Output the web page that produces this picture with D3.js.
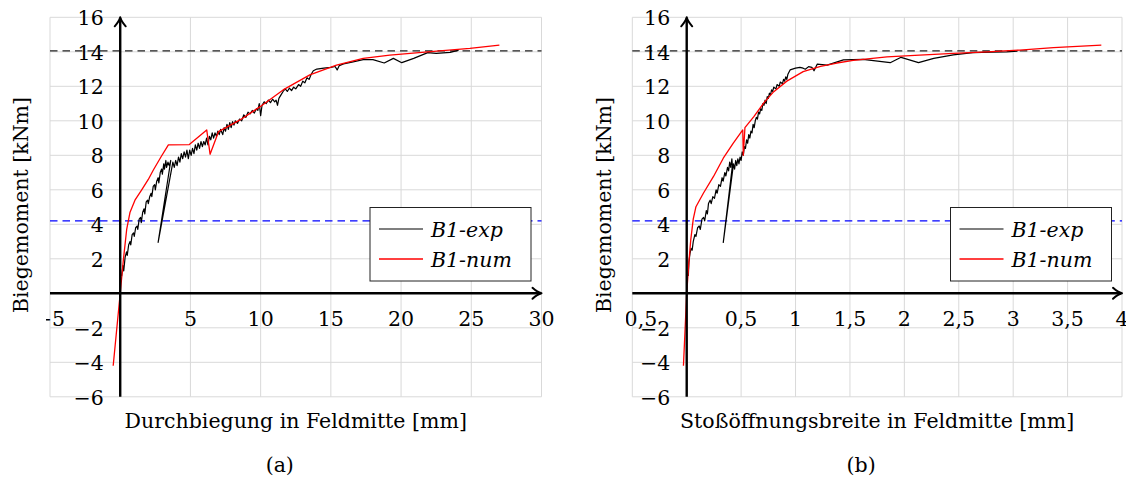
<!DOCTYPE html>
<html>
<head>
<meta charset="utf-8">
<script src="https://cdn.jsdelivr.net/npm/d3@7"></script>
<style>
  body { margin: 0; background: #fff; }
  svg { display: block; }
  text { font-family: "DejaVu Serif", serif; fill: #000; }
</style>
</head>
<body>
<svg id="chart" width="1126" height="481"></svg>
<script>
// ---------- data ----------
// (a) moment vs. mid-span deflection [mm]
const expA = [
  [0.1,1.0],[0.2,1.6],[0.25,1.3],[0.35,2.1],[0.45,2.4],[0.5,2.2],[0.6,2.8],[0.7,3.0],[0.75,2.8],
  [0.85,3.4],[0.95,3.5],[1.0,3.3],[1.1,3.8],[1.2,3.9],[1.25,3.7],[1.35,4.3],[1.45,4.4],[1.5,4.1],
  [1.6,4.7],[1.7,4.9],[1.75,4.6],[1.85,5.3],[1.95,5.4],[2.0,5.2],[2.1,5.6],[2.2,5.8],[2.25,5.6],
  [2.35,6.2],[2.45,6.3],[2.5,6.0],[2.6,6.5],[2.7,6.7],[2.75,6.4],[2.85,7.0],[2.95,7.2],[3.0,6.9],
  [3.1,7.5],[3.15,7.2],[3.25,7.7],[3.3,7.3],[3.4,7.6],[3.5,7.4],[3.6,7.7],
  [2.7,2.95],
  [3.75,7.6],[3.85,7.3],[3.95,7.7],[4.05,7.4],[4.15,7.9],[4.25,7.6],[4.35,8.1],[4.45,7.8],[4.55,8.2],
  [4.65,7.9],[4.75,8.3],[4.85,7.8],[4.95,8.3],[5.05,8.0],[5.15,8.4],[5.25,8.1],[5.35,8.6],[5.45,8.3],
  [5.55,8.7],[5.65,8.4],[5.75,8.8],[5.85,8.5],[5.95,8.8],[6.05,8.6],[6.15,9.0],[6.25,8.6],[6.35,9.1],
  [6.45,8.9],[6.55,9.3],[6.65,9.0],[6.75,9.3],[6.85,9.1],[6.95,9.4],[7.05,9.2],[7.15,9.5],[7.3,9.2],
  [7.4,9.6],[7.5,9.4],[7.6,9.8],[7.7,9.5],[7.8,9.9],[7.9,9.6],[8.0,9.95],[8.1,9.75],[8.2,10.0],
  [8.35,9.85],[8.5,10.1],[8.65,10.0],[8.8,10.35],[8.95,10.2],[9.1,10.5],[9.25,10.4],[9.4,10.6],
  [9.55,10.45],[9.7,10.7],[9.8,10.6],[9.9,11.0],[10.0,10.3],[10.1,10.9],[10.25,11.1],[10.4,11.0],
  [10.55,11.2],[10.7,11.05],[10.85,11.25],[11.0,11.1],[11.1,11.2],[11.2,10.9],[11.3,11.3],[11.45,11.5],
  [11.6,11.7],[11.75,11.85],[11.9,11.7],[12.05,11.9],[12.2,11.75],[12.35,11.95],[12.5,11.85],[12.7,12.1],
  [12.85,12.0],[13.0,12.3],[13.15,12.2],[13.3,12.5],[13.45,12.4],[13.6,12.7],[13.75,12.9],[14.0,13.0],
  [14.5,13.05],[15.0,13.1],[15.3,13.15],[15.45,12.95],[15.6,13.2],[15.9,13.3],[16.5,13.4],[17.3,13.55],
  [18.0,13.55],[18.8,13.35],[19.45,13.62],[20.05,13.37],[20.9,13.62],[21.9,13.95],[22.5,13.91],
  [23.5,13.97],[24.1,14.1]
];
const numA = [
  [-0.5,-4.2],[0,0],[0.22,1.9],[0.46,3.7],[0.7,4.7],[1.05,5.4],[1.53,6.0],[2.0,6.6],[2.36,7.15],
  [2.9,7.9],[3.43,8.6],[4.92,8.62],[6.16,9.47],[6.4,8.06],[7.0,9.37],[8.53,10.05],[9.96,10.82],
  [11.6,11.79],[13.5,12.66],[15.4,13.23],[17.3,13.62],[19.2,13.81],[21.9,14.0],[24.9,14.2],[27.0,14.39]
];

// (b) moment vs. joint opening width [mm]
const expB = [
  [0.015,1.0],[0.02,1.8],[0.03,2.3],[0.04,2.6],[0.05,2.5],[0.06,3.0],[0.075,3.4],[0.085,3.3],[0.1,3.8],
  [0.115,3.9],[0.125,3.7],[0.14,4.3],[0.155,4.4],[0.165,4.2],[0.18,4.8],[0.19,4.6],[0.2,5.2],[0.215,5.4],
  [0.225,5.2],[0.24,5.6],[0.255,5.5],[0.27,6.0],[0.28,5.8],[0.295,6.3],[0.31,6.2],[0.325,6.7],[0.335,6.5],
  [0.35,7.0],[0.36,6.8],[0.375,7.3],[0.385,7.1],[0.395,7.6],[0.405,7.3],[0.415,7.8],[0.42,7.4],
  [0.336,2.95],
  [0.43,7.5],[0.44,7.2],[0.45,7.7],[0.46,7.4],[0.47,7.8],[0.48,7.5],[0.49,7.9],[0.5,7.7],[0.51,8.2],
  [0.52,8.0],[0.53,8.5],[0.54,8.4],[0.55,8.9],[0.56,8.7],[0.57,9.2],[0.58,9.0],[0.59,9.4],[0.6,9.3],
  [0.61,9.8],[0.62,9.6],[0.63,10.0],[0.64,10.2],[0.65,10.1],[0.66,10.5],[0.67,10.4],[0.68,10.7],
  [0.69,10.6],[0.7,11.0],[0.71,10.9],[0.72,11.2],[0.73,11.0],[0.74,11.4],[0.75,11.3],[0.76,11.6],
  [0.77,11.5],[0.78,11.8],[0.79,11.7],[0.8,11.95],[0.82,11.85],[0.83,12.1],[0.85,12.0],[0.86,12.25],
  [0.88,12.15],[0.89,12.4],[0.9,12.3],[0.91,12.55],[0.92,12.4],[0.93,12.7],[0.95,12.95],[1.0,13.05],
  [1.04,13.1],[1.07,13.05],[1.09,12.99],[1.12,13.14],[1.15,13.1],[1.17,12.9],[1.2,13.29],[1.29,13.23],
  [1.44,13.53],[1.62,13.56],[1.87,13.37],[1.97,13.68],[2.13,13.37],[2.27,13.62],[2.45,13.82],
  [2.63,13.95],[2.8,13.98],[2.94,14.0],[3.04,14.04]
];
const numB = [
  [-0.03,-4.2],[0,0],[0.02,1.8],[0.037,3.09],[0.06,4.3],[0.085,5.02],[0.153,5.8],[0.245,6.76],
  [0.336,7.83],[0.428,8.7],[0.515,9.47],[0.52,8.0],[0.535,9.6],[0.617,10.24],[0.71,11.05],[0.8,11.69],
  [0.92,12.3],[1.07,12.85],[1.23,13.15],[1.38,13.35],[1.53,13.5],[1.84,13.7],[2.14,13.81],[2.45,13.91],
  [2.76,14.0],[3.06,14.1],[3.37,14.24],[3.81,14.39]
];

// reference levels [kNm]
const ultimateMoment = 14.05;
const crackingMoment = 4.2;

// ticks
const yTicks = [-6, -4, -2, 0, 2, 4, 6, 8, 10, 12, 14, 16];
const yTickLabels = ["\u22126", "\u22124", "\u22122", "", "2", "4", "6", "8", "10", "12", "14", "16"];
const xTicksA = [-5, 0, 5, 10, 15, 20, 25, 30];
const xTickLabelsA = ["\u22125", "", "5", "10", "15", "20", "25", "30"];
const xTicksB = [-0.5, 0, 0.5, 1, 1.5, 2, 2.5, 3, 3.5, 4];
const xTickLabelsB = ["\u22120,5", "", "0,5", "1", "1,5", "2", "2,5", "3", "3,5", "4"];

const seriesNames = ["B1-exp", "B1-num"];
const seriesColors = ["#000", "#ff0000"];

// ---------- layout ----------
const svg = d3.select("#chart");
const FONT = 20.5;

const panels = [
  {
    id: "a", exp: expA, num: numA,
    xDomain: [-5, 30], xRange: [50, 541.5],
    xTicks: xTicksA, xTickLabels: xTickLabelsA,
    xLabel: "Durchbiegung in Feldmitte [mm]", caption: "(a)",
    yLabelX: 28, clipLeft: 46
  },
  {
    id: "b", exp: expB, num: numB,
    xDomain: [-0.5, 4], xRange: [632.3, 1122],
    xTicks: xTicksB, xTickLabels: xTickLabelsB,
    xLabel: "Stoßöffnungsbreite in Feldmitte [mm]", caption: "(b)",
    yLabelX: 611, clipLeft: 626
  }
];

function arrowHead(g, x, y, dir) {
  // curved-barb arrow tip (dir: "up" or "right")
  const p = dir === "up"
    ? `M${x - 5.5},${y + 9} Q${x - 1},${y + 4} ${x},${y} Q${x + 1},${y + 4} ${x + 5.5},${y + 9}`
    : `M${x - 9},${y - 5.5} Q${x - 4},${y - 1} ${x},${y} Q${x - 4},${y + 1} ${x - 9},${y + 5.5}`;
  g.append("path").attr("d", p).attr("fill", "none").attr("stroke", "#000")
    .attr("stroke-width", 2).attr("stroke-linecap", "round").attr("stroke-linejoin", "round");
}

panels.forEach(p => {
  const x = d3.scaleLinear().domain(p.xDomain).range(p.xRange);
  const y = d3.scaleLinear().domain([-6, 16]).range([396.8, 17.3]);
  const g = svg.append("g").attr("class", "panel-" + p.id);
  const [x0, x1] = p.xRange;

  // grid
  const grid = g.append("g").attr("stroke", "#d9d9d9").attr("stroke-width", 1);
  grid.selectAll(".gx").data(p.xTicks).join("line")
    .attr("x1", d => x(d)).attr("x2", d => x(d)).attr("y1", y(-6)).attr("y2", y(16));
  grid.selectAll(".gy").data(yTicks).join("line")
    .attr("x1", x0).attr("x2", x1).attr("y1", d => y(d)).attr("y2", d => y(d));

  // reference levels
  g.append("line").attr("x1", x0).attr("x2", x1)
    .attr("y1", y(ultimateMoment)).attr("y2", y(ultimateMoment))
    .attr("stroke", "#222").attr("stroke-width", 1.3).attr("stroke-dasharray", "7.5,5");
  g.append("line").attr("x1", x0).attr("x2", x1)
    .attr("y1", y(crackingMoment)).attr("y2", y(crackingMoment))
    .attr("stroke", "#0000ff").attr("stroke-width", 1.3).attr("stroke-dasharray", "7.5,5");

  const line = d3.line().x(d => x(d[0])).y(d => y(d[1]));

  // experimental curve
  g.append("path").datum(p.exp).attr("d", line)
    .attr("fill", "none").attr("stroke", seriesColors[0]).attr("stroke-width", 1.2)
    .attr("stroke-linejoin", "round");
  // numerical curve
  g.append("path").datum(p.num).attr("d", line)
    .attr("fill", "none").attr("stroke", seriesColors[1]).attr("stroke-width", 1.3)
    .attr("stroke-linejoin", "round");

  // axes through the origin
  const ax = g.append("g");
  ax.append("line").attr("x1", x(0)).attr("x2", x(0)).attr("y1", y(-6)).attr("y2", y(16) + 1)
    .attr("stroke", "#000").attr("stroke-width", 2.4);
  arrowHead(ax, x(0), y(16), "up");
  ax.append("line").attr("x1", x0).attr("x2", x1 - 1).attr("y1", y(0)).attr("y2", y(0))
    .attr("stroke", "#000").attr("stroke-width", 2.4);
  arrowHead(ax, x1, y(0), "right");

  // tick labels (clipped at the subfigure's left border)
  const clipId = "clip-" + p.id;
  svg.append("clipPath").attr("id", clipId).append("rect")
    .attr("x", p.clipLeft).attr("y", 0).attr("width", 1126 - p.clipLeft).attr("height", 481);
  const tl = g.append("g").attr("clip-path", `url(#${clipId})`)
    .style("font-size", FONT + "px");
  tl.selectAll(".yt").data(yTicks.map((v, i) => [v, yTickLabels[i]]).filter(d => d[1]))
    .join("text").attr("text-anchor", "end")
    .attr("x", x(0) - 16.5).attr("y", d => y(d[0]) + 8).text(d => d[1]);
  tl.selectAll(".xt").data(p.xTicks.map((v, i) => [v, p.xTickLabels[i]]).filter(d => d[1]))
    .join("text").attr("text-anchor", "middle")
    .attr("x", d => x(d[0])).attr("y", y(0) + 33).text(d => d[1]);

  // axis titles and caption
  const cx = (x0 + x1) / 2;
  g.append("text").attr("x", cx).attr("y", 428).attr("text-anchor", "middle")
    .style("font-size", FONT + "px").text(p.xLabel);
  g.append("text").attr("transform", `translate(${p.yLabelX},205) rotate(-90)`)
    .attr("text-anchor", "middle")
    .style("font-size", FONT + "px").text("Biegemoment [kNm]");
  g.append("text").attr("x", cx - 16).attr("y", 472).attr("text-anchor", "middle")
    .style("font-size", FONT + "px").text(p.caption);

  // legend
  const lg = g.append("g").attr("transform", `translate(${x1 - 171.5},207.5)`);
  lg.append("rect").attr("width", 161).attr("height", 73.5)
    .attr("fill", "#fff").attr("stroke", "#222").attr("stroke-width", 1);
  seriesNames.forEach((name, i) => {
    const yy = 21.5 + i * 30;
    lg.append("line").attr("x1", 9).attr("x2", 53).attr("y1", yy).attr("y2", yy)
      .attr("stroke", seriesColors[i]).attr("stroke-width", i ? 1.3 : 1.1);
    lg.append("text").attr("x", 61).attr("y", yy + 7.5)
      .style("font-size", FONT + "px").style("font-style", "italic").text(name);
  });
});
</script>
</body>
</html>
